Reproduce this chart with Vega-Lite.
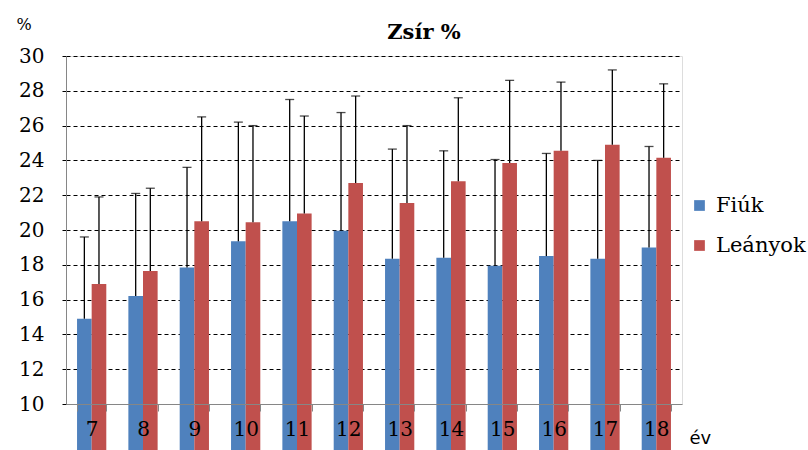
{
  "$schema": "https://vega.github.io/schema/vega-lite/v6.json",
  "autosize": "none",
  "width": 616,
  "height": 348,
  "padding": {"left": 66, "top": 56, "right": 126, "bottom": 46},
  "background": "white",
  "title": {"text": "Zsír %", "font": "DejaVu Serif", "fontSize": 21, "fontWeight": "bold", "color": "black", "anchor": "middle", "frame": "group", "dx": 50, "offset": -27},
  "data": {"values": [
    {"age": 7, "group": "Fiúk", "value": 14.9, "upper": 19.6},
    {"age": 7, "group": "Leányok", "value": 16.9, "upper": 21.9},
    {"age": 8, "group": "Fiúk", "value": 16.2, "upper": 22.1},
    {"age": 8, "group": "Leányok", "value": 17.65, "upper": 22.4},
    {"age": 9, "group": "Fiúk", "value": 17.85, "upper": 23.6},
    {"age": 9, "group": "Leányok", "value": 20.5, "upper": 26.5},
    {"age": 10, "group": "Fiúk", "value": 19.35, "upper": 26.2},
    {"age": 10, "group": "Leányok", "value": 20.45, "upper": 26.0},
    {"age": 11, "group": "Fiúk", "value": 20.5, "upper": 27.5},
    {"age": 11, "group": "Leányok", "value": 20.95, "upper": 26.55},
    {"age": 12, "group": "Fiúk", "value": 19.95, "upper": 26.75},
    {"age": 12, "group": "Leányok", "value": 22.7, "upper": 27.7},
    {"age": 13, "group": "Fiúk", "value": 18.35, "upper": 24.65},
    {"age": 13, "group": "Leányok", "value": 21.55, "upper": 26.0},
    {"age": 14, "group": "Fiúk", "value": 18.4, "upper": 24.55},
    {"age": 14, "group": "Leányok", "value": 22.8, "upper": 27.6},
    {"age": 15, "group": "Fiúk", "value": 17.95, "upper": 24.05},
    {"age": 15, "group": "Leányok", "value": 23.85, "upper": 28.6},
    {"age": 16, "group": "Fiúk", "value": 18.5, "upper": 24.4},
    {"age": 16, "group": "Leányok", "value": 24.55, "upper": 28.5},
    {"age": 17, "group": "Fiúk", "value": 18.35, "upper": 24.0},
    {"age": 17, "group": "Leányok", "value": 24.9, "upper": 29.2},
    {"age": 18, "group": "Fiúk", "value": 19.0, "upper": 24.8},
    {"age": 18, "group": "Leányok", "value": 24.15, "upper": 28.4}
  ]},
  "config": {
    "axisY": {
      "titleFont": "DejaVu Serif", "titleFontSize": 16, "titleFontWeight": "normal", "titleColor": "black",
      "titleAngle": 0, "titleAlign": "left", "titleBaseline": "alphabetic", "titleX": -50, "titleY": -27,
      "labelOverlap": false,
      "labelFont": "DejaVu Serif", "labelFontSize": 20, "labelColor": "black", "labelPadding": 15,
      "tickSize": 7, "tickColor": "black", "tickDash": [4, 3],
      "domainColor": "#868686",
      "grid": true, "gridColor": "black", "gridDash": [4, 3], "gridWidth": 1, "gridOpacity": 1
    }
  },
  "encoding": {
    "x": {
      "field": "age", "type": "ordinal",
      "scale": {"paddingInner": 0.43, "paddingOuter": 0.215},
      "axis": {
        "title": "év", "titleFont": "DejaVu Sans", "titleFontSize": 18, "titleFontWeight": "normal", "titleColor": "black",
        "titleAngle": 0, "titleAlign": "left", "titleBaseline": "alphabetic", "titleX": 623, "titleY": 39,
        "labelFont": "DejaVu Serif", "labelFontSize": 20, "labelColor": "black", "labelAngle": 0, "labelPadding": 8,
        "tickBand": "extent", "tickSize": 7, "tickColor": "#868686", "domainColor": "#868686", "grid": false, "zindex": 1
      }
    },
    "xOffset": {"field": "group", "type": "nominal", "scale": {"paddingInner": 0, "paddingOuter": 0}}
  },
  "layer": [
    {
      "mark": {"type": "bar"},
      "encoding": {
        "y": {
          "field": "value", "type": "quantitative",
          "scale": {"domain": [10, 30], "nice": false},
          "axis": {"title": "%", "values": [10, 12, 14, 16, 18, 20, 22, 24, 26, 28, 30], "labelOverlap": false}
        },
        "color": {
          "field": "group", "type": "nominal",
          "scale": {"domain": ["Fiúk", "Leányok"], "range": ["#4F81BD", "#C0504D"]},
          "legend": {
            "title": null, "orient": "none", "legendX": 623, "legendY": 139, "padding": 0,
            "symbolType": "square", "symbolSize": 115, "symbolStrokeWidth": 0,
            "labelFont": "DejaVu Serif", "labelFontSize": 21, "labelColor": "black", "labelOffset": 6,
            "rowPadding": 18
          }
        }
      }
    },
    {
      "mark": {"type": "rule", "color": "black", "strokeWidth": 1.3},
      "encoding": {
        "y": {"field": "value", "type": "quantitative", "axis": {"title": "%", "values": [10, 12, 14, 16, 18, 20, 22, 24, 26, 28, 30], "labelOverlap": false}},
        "y2": {"field": "upper"}
      }
    },
    {
      "mark": {"type": "tick", "color": "black", "thickness": 1.3, "size": 9, "orient": "horizontal"},
      "encoding": {
        "y": {"field": "upper", "type": "quantitative", "axis": {"title": "%", "values": [10, 12, 14, 16, 18, 20, 22, 24, 26, 28, 30], "labelOverlap": false}}
      }
    }
  ]
}
